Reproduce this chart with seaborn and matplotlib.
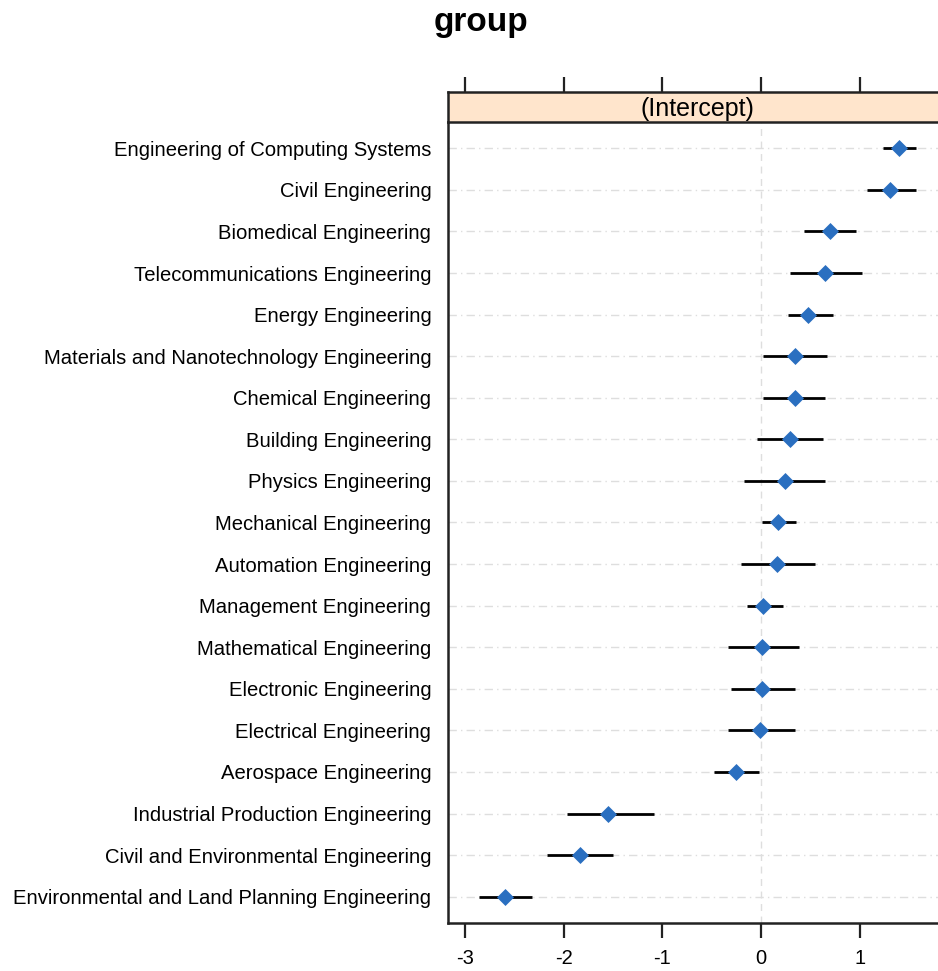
import matplotlib
matplotlib.use("Agg")
import matplotlib.pyplot as plt
import seaborn as sns
import pandas as pd
import numpy as np

categories = [
    "Engineering of Computing Systems",
    "Civil Engineering",
    "Biomedical Engineering",
    "Telecommunications Engineering",
    "Energy Engineering",
    "Materials and Nanotechnology Engineering",
    "Chemical Engineering",
    "Building Engineering",
    "Physics Engineering",
    "Mechanical Engineering",
    "Automation Engineering",
    "Management Engineering",
    "Mathematical Engineering",
    "Electronic Engineering",
    "Electrical Engineering",
    "Aerospace Engineering",
    "Industrial Production Engineering",
    "Civil and Environmental Engineering",
    "Environmental and Land Planning Engineering",
]
estimate = [1.40, 1.31, 0.70, 0.65, 0.48, 0.34, 0.34, 0.29, 0.24, 0.17, 0.16,
            0.02, 0.01, 0.01, -0.01, -0.25, -1.55, -1.84, -2.60]
lower = [1.24, 1.07, 0.44, 0.29, 0.27, 0.02, 0.02, -0.04, -0.17, 0.01, -0.20,
         -0.14, -0.33, -0.30, -0.33, -0.48, -1.97, -2.17, -2.86]
upper = [1.57, 1.57, 0.96, 1.02, 0.73, 0.67, 0.65, 0.63, 0.65, 0.36, 0.55,
         0.22, 0.39, 0.34, 0.34, -0.02, -1.09, -1.50, -2.32]
x_ticks = [-3, -2, -1, 0, 1]
panel_title = "(Intercept)"
main_title = "group"

df = pd.DataFrame({"group": categories, "est": estimate, "lo": lower, "hi": upper})
df["pos"] = np.arange(len(df))

sns.set_style("white")
plt.rcParams["font.family"] = ["Liberation Sans", "DejaVu Sans"]
plt.rcParams["text.color"] = "black"
plt.rcParams["xtick.color"] = "black"
plt.rcParams["ytick.color"] = "black"

W, H = 938, 971
fig = plt.figure(figsize=(W / 100, H / 100), dpi=100)

x0_px, right_px = 761.0, 946.0
ppu = 98.6
left_px = 448.0
xmin = (left_px - x0_px) / ppu
xmax = (right_px - x0_px) / ppu

top_px, bot_px = 122.0, 923.0
strip_top = 92.0
ax = fig.add_axes([left_px / W, 1 - bot_px / H, (right_px - left_px) / W, (bot_px - top_px) / H])
sax = fig.add_axes([left_px / W, 1 - top_px / H, (right_px - left_px) / W, (top_px - strip_top) / H])

grid_col = "#dedede"
for p in df["pos"]:
    ax.axhline(p, color=grid_col, lw=1.0, ls=(0, (6, 3, 1, 3)), zorder=0)
ax.axvline(0, color=grid_col, lw=1.0, ls=(0, (5, 4)), zorder=0)

ax.hlines(df["pos"], df["lo"], df["hi"], color="black", lw=2.0, zorder=2)
sns.scatterplot(data=df, x="est", y="pos", marker="D", s=75, color="#2a6fc0",
                edgecolor="#2a6fc0", linewidth=0, ax=ax, zorder=3, legend=False)

ax.set_xlim(xmin, xmax)
ax.set_ylim(len(df) - 1 + 0.633, -0.633)
ax.set_yticks(df["pos"])
ax.set_yticklabels(df["group"], fontsize=14.6, color="black")
ax.set_xticks(x_ticks)
ax.set_xticklabels([str(t) for t in x_ticks], fontsize=14.5, color="black")
ax.set_xlabel("")
ax.set_ylabel("")
ax.tick_params(axis="y", left=False, length=0, pad=12)
ax.tick_params(axis="x", bottom=True, direction="out", length=11, width=1.6, pad=8,
               color="#222222")
for side in ["left", "bottom"]:
    ax.spines[side].set_linewidth(1.8)
    ax.spines[side].set_color("#222222")
ax.spines["top"].set_visible(False)
ax.spines["right"].set_visible(False)

sax.set_facecolor("#ffe5cc")
sax.set_xlim(xmin, xmax)
sax.set_ylim(0, 1)
sax.set_yticks([])
sax.set_xticks(x_ticks)
sax.xaxis.tick_top()
sax.tick_params(axis="x", top=True, bottom=False, direction="out", length=11, width=1.6,
                labeltop=False, labelbottom=False, color="#222222")
for side in ["left", "top", "bottom"]:
    sax.spines[side].set_linewidth(1.8)
    sax.spines[side].set_color("#222222")
sax.spines["right"].set_visible(False)
sax.text(((697 - x0_px) / ppu), 0.42, panel_title, ha="center", va="center", fontsize=18)

fig.text(481 / W, 1 - 22 / H, main_title, ha="center", va="center", fontsize=24,
         fontweight="bold")

fig.savefig("out.png", dpi=100)
